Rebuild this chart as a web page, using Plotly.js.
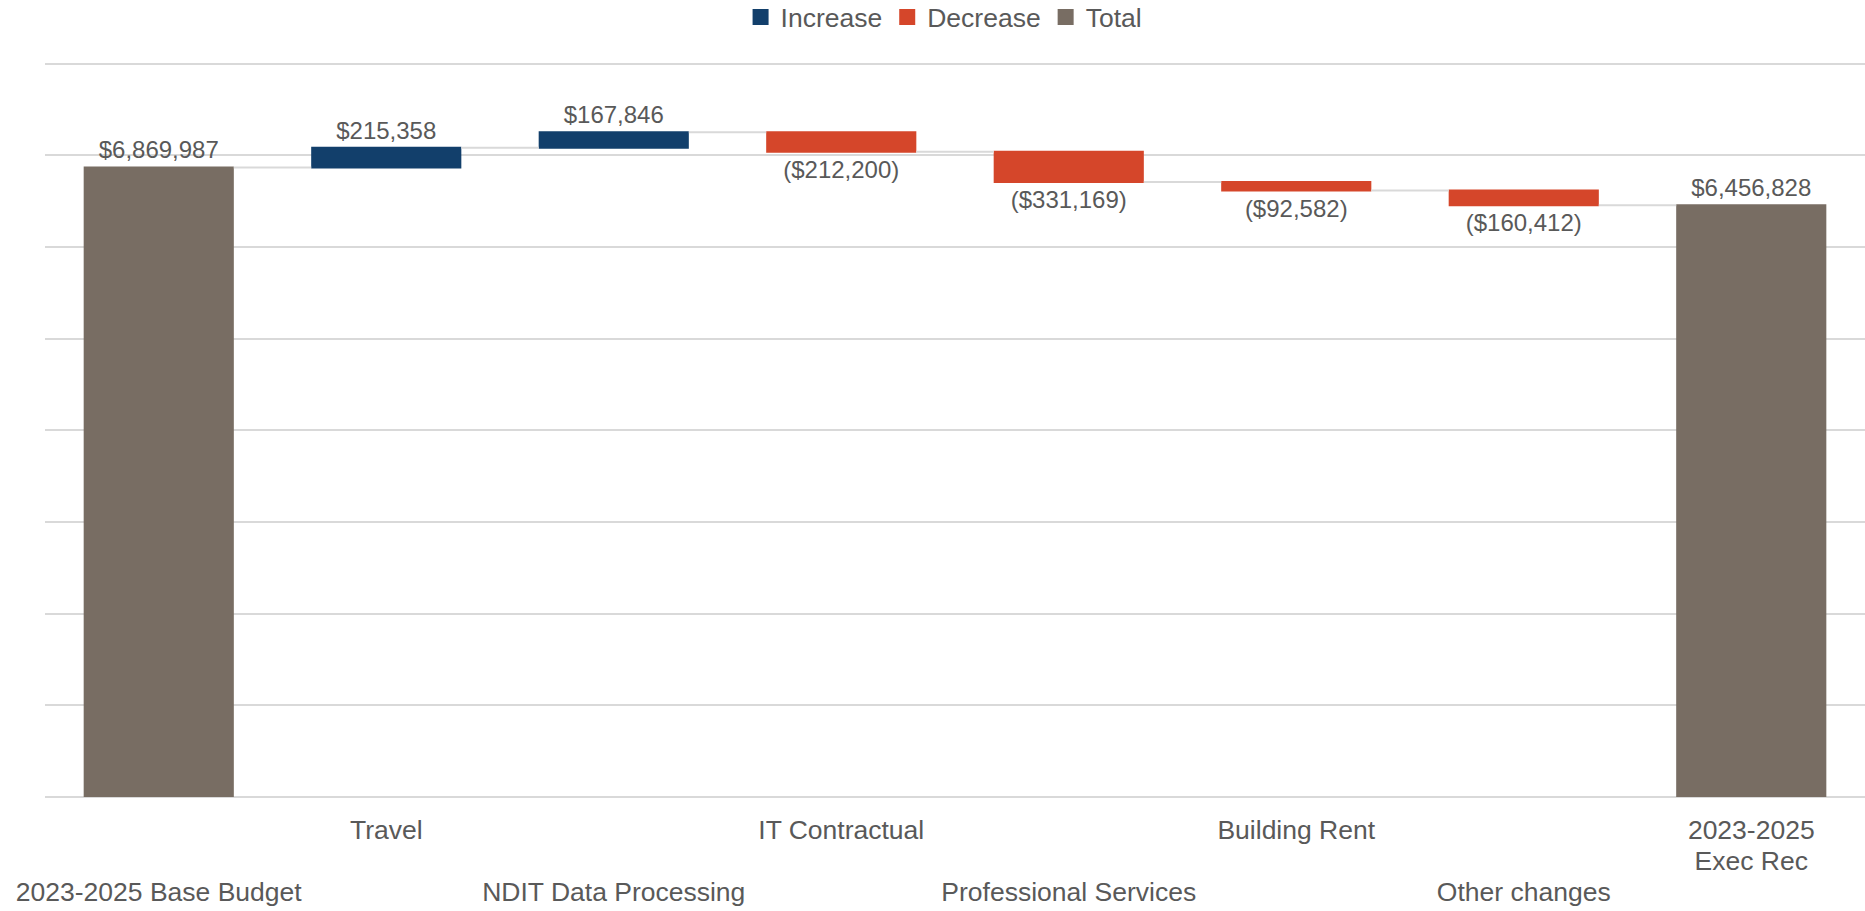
<!DOCTYPE html>
<html>
<head>
<meta charset="utf-8">
<script src="https://cdn.plot.ly/plotly-3.0.1.min.js"></script>
<style>html,body{margin:0;padding:0;background:#fff;}#chart{width:1865px;height:911px;}</style>
</head>
<body>
<div id="chart"></div>
<script>
const categories = ["2023-2025 Base Budget", "Travel", "NDIT Data Processing", "IT Contractual", "Professional Services", "Building Rent", "Other changes", "2023-2025 Exec Rec"];
const tickLabels = ["<br><br>2023-2025 Base Budget", "Travel", "<br><br>NDIT Data Processing", "IT Contractual", "<br><br>Professional Services", "Building Rent", "<br><br>Other changes", "2023-2025<br>Exec Rec"];
const measures = ["absolute", "relative", "relative", "relative", "relative", "relative", "relative", "total"];
const values = [6869987, 215358, 167846, -212200, -331169, -92582, -160412, 0];

const fmt = v => "$" + Math.abs(v).toLocaleString("en-US");
let running = 0;
const labels = values.map((v, i) => {
  if (measures[i] === "absolute") { running = v; return fmt(v); }
  if (measures[i] === "total") { return fmt(running); }
  running += v;
  return v < 0 ? "(" + fmt(v) + ")" : fmt(v);
});

const bigText = s => s.split("<br>").map(p => p ? "<span style='font-size:26.5px'>" + p + "</span>" : p).join("<br>");

const cInc = "#123F6B", cDec = "#D5462A", cTot = "#786D63";
const txt = "#595959";

const traces = [
  {
    type: "waterfall",
    x: categories,
    y: values,
    measure: measures,
    text: labels,
    textposition: "outside",
    cliponaxis: false,
    textfont: {family: "Liberation Sans, Arial, sans-serif", size: 24, color: txt},
    increasing: {marker: {color: cInc, line: {width: 0}}},
    decreasing: {marker: {color: cDec, line: {width: 0}}},
    totals: {marker: {color: cTot, line: {width: 0}}},
    connector: {mode: "between", line: {color: "#d9d9d9", width: 2}},
    showlegend: false,
    hoverinfo: "skip"
  },
  {type: "scatter", mode: "markers", x: [null], y: [null], name: "Increase", marker: {symbol: "square", size: 17, color: cInc}},
  {type: "scatter", mode: "markers", x: [null], y: [null], name: "Decrease", marker: {symbol: "square", size: 17, color: cDec}},
  {type: "scatter", mode: "markers", x: [null], y: [null], name: "Total", marker: {symbol: "square", size: 17, color: cTot}}
];

const layout = {
  width: 1865, height: 911,
  margin: {l: 45, r: 0, t: 62, b: 114, autoexpand: false},
  paper_bgcolor: "#fff", plot_bgcolor: "#fff",
  font: {family: "Liberation Sans, Arial, sans-serif", color: txt, size: 24},
  waterfallgap: 0.34,
  showlegend: true,
  legend: {orientation: "h", x: 0.494, xanchor: "center", yref: "container", y: 0.981, yanchor: "middle", font: {size: 26.5, color: txt}, traceorder: "normal", itemclick: false},
  xaxis: {
    type: "category",
    tickvals: categories, ticktext: tickLabels.map(bigText),
    ticks: "", showgrid: false, showline: false, zeroline: false,
    tickfont: {size: 24, color: txt},
    ticklabelstandoff: 17,
    fixedrange: true
  },
  yaxis: {
    range: [0, 8020000], dtick: 1000000, tick0: 0,
    showticklabels: false, ticks: "",
    showgrid: true, gridcolor: "#d9d9d9", gridwidth: 2,
    zeroline: true, zerolinecolor: "#d9d9d9", zerolinewidth: 2,
    showline: false, fixedrange: true
  }
};

Plotly.newPlot("chart", traces, layout, {displayModeBar: false, staticPlot: true});
</script>
</body>
</html>
